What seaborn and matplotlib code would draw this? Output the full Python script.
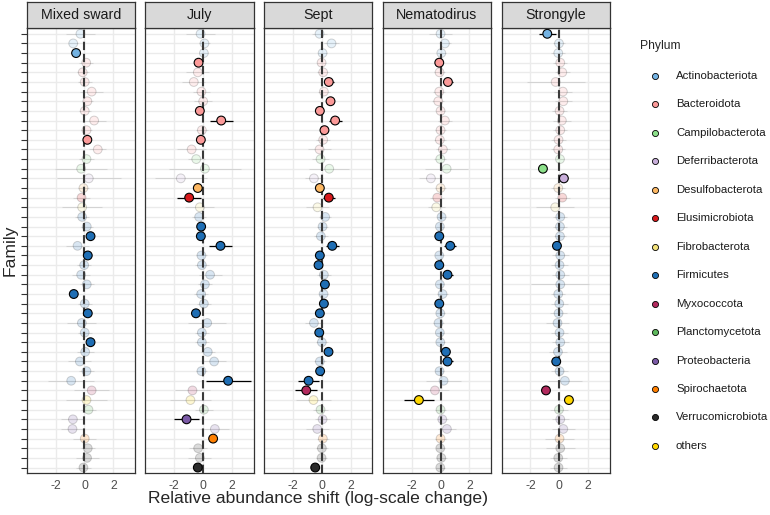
import matplotlib
matplotlib.use("Agg")
import matplotlib.pyplot as plt
import seaborn as sns
import pandas as pd
from matplotlib.lines import Line2D

# ---- dados ----
panels = ["Mixed sward", "July", "Sept", "Nematodirus", "Strongyle"]

phylum_order = ["Actinobacteriota", "Bacteroidota", "Campilobacterota", "Deferribacterota",
                "Desulfobacterota", "Elusimicrobiota", "Fibrobacterota", "Firmicutes",
                "Myxococcota", "Planctomycetota", "Proteobacteria", "Spirochaetota",
                "Verrucomicrobiota", "others"]
phylum_colors = ["#74B3E3", "#FB9A99", "#8CE08A", "#C8AEDA", "#FDB863", "#D7191C", "#F3E27A",
                 "#1F6EB4", "#B22A5E", "#5DB85C", "#7B5AA6", "#FF7F00", "#2B2B2B", "#FFD700"]

# filo de cada família (linha 1 = topo)
row_phylum = (["Actinobacteriota"] * 3 + ["Bacteroidota"] * 10 + ["Campilobacterota"] * 2
              + ["Deferribacterota", "Desulfobacterota", "Elusimicrobiota", "Fibrobacterota"]
              + ["Firmicutes"] * 18 + ["Myxococcota", "others", "Planctomycetota"]
              + ["Proteobacteria"] * 2 + ["Spirochaetota"] + ["Verrucomicrobiota"] * 3)

mixed_est = [-0.28, -0.78, -0.58, 0.12, -0.12, 0.02, 0.5, 0.2, 0.02, 0.67, 0.14, 0.2, 0.92, 0.14,
             -0.23, 0.3, -0.07, -0.2, -0.16, -0.16, 0.16, 0.42, -0.48, 0.23, -0.02, -0.23, 0.16,
             -0.74, 0.02, 0.23, -0.18, 0.02, 0.42, 0.05, -0.32, 0.14, -0.92, 0.5, 0.14, 0.28,
             -0.8, -0.83, 0.02, 0.23, 0.18, -0.07]
mixed_err = [1.0, 0.3, 0.3, 0.5, 0.4, 0.5, 0.8, 0.4, 0.4, 0.8, 0.4, 0.25, 0.6, 0.5, 1.8, 2.2, 0.4,
             0.6, 1.4, 0.5, 0.4, 0.25, 0.8, 0.25, 0.5, 0.6, 0.5, 0.25, 0.5, 0.25, 1.0, 0.5, 0.25,
             0.6, 0.8, 0.5, 1.6, 1.2, 1.4, 0.5, 0.8, 0.8, 0.8, 0.5, 0.8, 0.5]
mixed_sig = [3, 12, 22, 24, 28, 30, 33]

july_est = [-0.18, 0.09, 0.05, -0.32, -0.37, -0.65, -0.12, 0.0, -0.23, 1.25, -0.09, -0.16, -0.8,
            -0.48, 0.12, -1.55, -0.37, -0.97, -0.23, -0.28, -0.14, -0.16, 1.2, -0.12, -0.09,
            0.48, 0.12, -0.14, 0.05, -0.5, 0.28, -0.09, -0.09, 0.32, 0.76, -0.12, 1.73, -0.74,
            -0.88, 0.05, -1.15, 0.81, 0.69, -0.35, -0.23, -0.37]
july_err = [1.0, 0.4, 0.3, 0.25, 0.8, 0.8, 0.6, 0.6, 0.25, 0.8, 0.4, 0.25, 1.0, 0.6, 2.5, 1.8,
            0.2, 0.83, 1.0, 0.5, 0.2, 0.2, 0.8, 0.4, 0.5, 0.8, 0.5, 0.5, 0.5, 0.25, 1.3, 0.5,
            0.5, 0.5, 0.8, 0.4, 1.55, 1.2, 1.4, 0.6, 0.88, 1.0, 0.2, 0.6, 0.8, 0.2]
july_sig = [4, 9, 10, 12, 17, 18, 21, 22, 23, 30, 37, 41, 43, 46]

sept_est = [-0.16, 0.67, 0.05, -0.02, 0.09, 0.48, 0.14, 0.6, -0.14, 0.92, 0.18, 0.09, -0.16,
            -0.09, 0.51, -0.55, -0.14, 0.48, -0.3, 0.23, 0.05, -0.07, 0.72, -0.14, -0.23, 0.14,
            0.21, 0.12, 0.14, -0.14, -0.55, -0.18, 0.0, 0.46, -0.14, -0.12, -0.92, -1.08, -0.58,
            -0.09, 0.05, -0.32, 0.07, 0.0, -0.02, -0.46]
sept_err = [0.5, 0.5, 0.3, 0.3, 0.4, 0.35, 0.4, 0.2, 0.2, 0.45, 0.2, 0.5, 0.8, 0.6, 1.4, 0.6,
            0.2, 0.4, 0.8, 0.4, 0.4, 0.5, 0.45, 0.2, 0.2, 0.5, 0.2, 0.3, 0.2, 0.2, 0.6, 0.2, 0.4,
            0.2, 0.4, 0.2, 0.75, 0.77, 1.2, 0.5, 0.5, 0.8, 0.4, 0.4, 0.4, 0.2]
sept_sig = [6, 8, 9, 10, 11, 17, 18, 23, 24, 25, 27, 29, 30, 32, 34, 36, 37, 38, 46]

nema_est = [0.0, 0.3, 0.05, -0.09, -0.07, 0.51, -0.09, -0.16, 0.0, 0.3, 0.0, -0.05, 0.16, -0.02,
            0.42, -0.67, 0.0, -0.23, -0.3, 0.07, -0.05, -0.09, 0.67, -0.09, -0.09, 0.48, -0.05,
            0.14, -0.09, -0.02, -0.14, -0.05, -0.02, 0.37, 0.48, -0.07, 0.21, -0.39, -1.5, 0.0,
            0.12, 0.44, 0.0, -0.02, 0.05, -0.02]
nema_err = [0.8, 0.4, 0.3, 0.2, 0.4, 0.35, 0.4, 0.4, 0.3, 0.5, 0.4, 0.4, 0.5, 0.4, 1.5, 0.8, 0.4,
            0.5, 0.6, 0.3, 0.3, 0.2, 0.4, 0.3, 0.2, 0.4, 0.3, 0.4, 0.2, 0.3, 0.4, 0.3, 0.3, 0.2,
            0.35, 0.3, 1.2, 1.0, 1.03, 0.4, 0.4, 0.6, 0.4, 0.3, 0.4, 0.3]
nema_sig = [4, 6, 22, 23, 25, 26, 29, 34, 35, 39]

strong_est = [-0.83, -0.02, -0.07, 0.07, 0.21, -0.25, 0.25, 0.28, 0.02, 0.18, 0.07, -0.05,
              -0.07, 0.05, -1.13, 0.32, -0.07, 0.21, -0.28, 0.07, 0.05, 0.05, -0.16, 0.07, 0.02,
              0.07, 0.07, -0.07, 0.0, -0.05, -0.12, 0.02, 0.07, -0.09, -0.21, 0.02, 0.39, -0.92,
              0.67, -0.02, 0.07, 0.28, 0.02, 0.07, -0.07, -0.05]
strong_err = [0.6, 0.4, 0.5, 0.5, 0.5, 2.0, 0.6, 0.6, 0.5, 0.6, 0.5, 0.5, 0.5, 0.3, 0.2, 0.2,
              0.5, 0.5, 1.3, 0.5, 0.5, 0.4, 0.2, 0.6, 0.6, 0.6, 2.0, 0.5, 0.6, 0.6, 0.8, 0.6,
              0.6, 0.6, 0.2, 0.6, 1.2, 0.2, 0.2, 0.6, 0.6, 0.8, 1.0, 1.0, 0.6, 0.6]
strong_sig = [1, 15, 16, 23, 35, 38, 39]

xtick_values = [-2, 0, 2]
xtick_labels = ["-2", "0", "2"]

# ---- montar tabela longa ----
panel_data = [(mixed_est, mixed_err, mixed_sig), (july_est, july_err, july_sig),
              (sept_est, sept_err, sept_sig), (nema_est, nema_err, nema_sig),
              (strong_est, strong_err, strong_sig)]
frames = []
for name, (est, err, sig) in zip(panels, panel_data):
    rows = list(range(1, len(est) + 1))
    frames.append(pd.DataFrame({
        'panel': name, 'row': rows, 'est': est, 'err': err,
        'sig': [r in sig for r in rows], 'phylum': row_phylum}))
df = pd.concat(frames, ignore_index=True)
palette = dict(zip(phylum_order, phylum_colors))

sns.set_style("white")
plt.rcParams['font.family'] = ['Liberation Sans', 'DejaVu Sans']

W, H = 770, 515
fig = plt.figure(figsize=(W / 100, H / 100), dpi=100)

panel_left, panel_step, panel_w = 26.7, 118.7, 108.3
panel_top, panel_bottom, strip_top = 28.0, 473.3, 1.7
n_rows = len(row_phylum)

for i, name in enumerate(panels):
    x0 = panel_left + i * panel_step
    ax = fig.add_axes([x0 / W, (H - panel_bottom) / H, panel_w / W, (panel_bottom - panel_top) / H])
    sub = df[df['panel'] == name]
    faded = sub[~sub['sig']]
    strong = sub[sub['sig']]

    # linhas de erro e pontos não significativos (esmaecidos)
    ax.hlines(faded['row'], faded['est'] - faded['err'], faded['est'] + faded['err'],
              color='black', alpha=0.1, lw=0.8, zorder=2)
    sns.scatterplot(data=faded, x='est', y='row', hue='phylum', palette=palette, alpha=0.17,
                    edgecolor='black', linewidth=0.7, s=40, legend=False, ax=ax, zorder=2)

    ax.axvline(0, color='#3A3A3A', lw=1.5, dashes=(4, 1.8), zorder=3)

    # pontos significativos
    ax.hlines(strong['row'], strong['est'] - strong['err'], strong['est'] + strong['err'],
              color='black', lw=0.9, zorder=4)
    sns.scatterplot(data=strong, x='est', y='row', hue='phylum', palette=palette,
                    edgecolor='black', linewidth=0.8, s=40, legend=False, ax=ax, zorder=5)

    ax.set_xlim(-4.0, 3.5)
    ax.set_ylim(n_rows + 0.6, 0.4)
    ax.set_yticks(range(1, n_rows + 1))
    ax.set_xticks(xtick_values)
    ax.set_xticklabels(xtick_labels)
    ax.grid(True, color='#EBEBEB', lw=1.0)
    ax.set_axisbelow(True)
    ax.set_xlabel('')
    ax.set_ylabel('')
    ax.tick_params(axis='x', length=2.5, width=0.6, color='#333333', labelsize=8.8,
                   labelcolor='#4D4D4D', pad=2)
    if i == 0:
        ax.tick_params(axis='y', length=4, width=0.8, color='#333333', labelleft=False, left=True)
    else:
        ax.tick_params(axis='y', length=0, labelleft=False)
    for sp in ax.spines.values():
        sp.set_color('#333333')
        sp.set_linewidth(0.9)

    # faixa do título do painel
    sax = fig.add_axes([x0 / W, (H - panel_top) / H, panel_w / W, (panel_top - strip_top) / H])
    sax.set_facecolor('#D9D9D9')
    sax.set_xticks([])
    sax.set_yticks([])
    for sp in sax.spines.values():
        sp.set_color('#333333')
        sp.set_linewidth(0.9)
    sax.text(0.5, 0.5, name, ha='center', va='center', fontsize=10.3, color='#1A1A1A',
             transform=sax.transAxes)

fig.text((panel_left + 4 * panel_step + panel_w + panel_left) / 2 / W, 16 / H,
         'Relative abundance shift (log-scale change)', ha='center', va='center', fontsize=12.6)
fig.text(10 / W, (H - 250) / H, 'Family', ha='center', va='center', rotation=90, fontsize=12.6)

# legenda
fig.text(640 / W, (H - 46) / H, 'Phylum', ha='left', va='center', fontsize=8.7)
for k, (ph, col) in enumerate(zip(phylum_order, phylum_colors)):
    yk = (H - (76 + k * 28.45)) / H
    fig.add_artist(Line2D([655 / W], [yk], marker='o', markersize=4.4, markerfacecolor=col,
                          markeredgecolor='black', markeredgewidth=0.6, linestyle='none',
                          transform=fig.transFigure))
    fig.text(676 / W, yk, ph, ha='left', va='center', fontsize=8.2, color='#1A1A1A')

fig.savefig('out.png', dpi=100)
